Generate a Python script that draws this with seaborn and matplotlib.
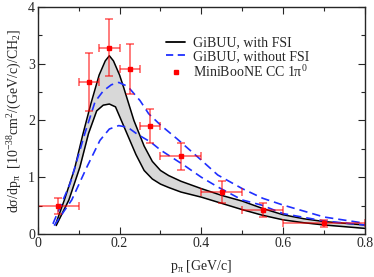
"""
GiBUU vs MiniBooNE CC 1pi0: dsigma/dp_pi.
Output: out.png
"""
import numpy as np
import pandas as pd
import matplotlib.pyplot as plt
from matplotlib.lines import Line2D
import seaborn as sns

# GiBUU with FSI: band (upper and lower edge)
fsi_up_x = [0.045, 0.065, 0.09, 0.11, 0.13, 0.15, 0.165, 0.175, 0.185, 0.2, 0.21, 0.235, 0.26,
            0.28, 0.3, 0.32, 0.35, 0.4, 0.45, 0.5, 0.55, 0.6, 0.65, 0.7, 0.75, 0.8]
fsi_up_y = [0.2, 0.6, 1.15, 1.75, 2.3, 2.8, 3.05, 3.14, 3.05, 2.8, 2.58, 2.0, 1.55,
            1.28, 1.12, 1.03, 0.93, 0.8, 0.68, 0.58, 0.45, 0.34, 0.27, 0.22, 0.19, 0.16]
fsi_lo_x = [0.045, 0.076, 0.103, 0.124, 0.144, 0.16, 0.175, 0.19, 0.215, 0.24, 0.26,
            0.28, 0.3, 0.32, 0.35, 0.4, 0.45, 0.5, 0.55, 0.6, 0.65, 0.7, 0.75, 0.8]
fsi_lo_y = [0.15, 0.6, 1.18, 1.77, 2.17, 2.27, 2.29, 2.24, 1.82, 1.4, 1.12,
            0.97, 0.88, 0.82, 0.74, 0.65, 0.54, 0.43, 0.33, 0.25, 0.2, 0.16, 0.13, 0.1]

# GiBUU without FSI: two dashed curves
nofsi_up_x = [0.037, 0.079, 0.115, 0.14, 0.16, 0.18, 0.198, 0.22, 0.25, 0.271, 0.3,
              0.34, 0.4, 0.44, 0.5, 0.55, 0.6, 0.7, 0.8]
nofsi_up_y = [0.18, 0.89, 1.77, 2.33, 2.52, 2.63, 2.67, 2.6, 2.35, 2.12, 1.92,
              1.68, 1.3, 1.04, 0.8, 0.63, 0.51, 0.3, 0.19]
nofsi_lo_x = [0.04, 0.083, 0.12, 0.152, 0.175, 0.198, 0.22, 0.243, 0.276, 0.3,
              0.358, 0.4, 0.44, 0.5, 0.547, 0.6, 0.7, 0.8]
nofsi_lo_y = [0.15, 0.6, 1.18, 1.65, 1.85, 1.91, 1.88, 1.76, 1.62, 1.48,
              1.21, 1.0, 0.83, 0.6, 0.51, 0.36, 0.23, 0.16]

# MiniBooNE data
data_x = [0.05, 0.125, 0.175, 0.225, 0.275, 0.35, 0.45, 0.55, 0.7]
data_y = [0.49, 2.67, 3.28, 2.9, 1.9, 1.37, 0.74, 0.42, 0.19]
data_xerr = [0.05, 0.025, 0.025, 0.025, 0.025, 0.05, 0.05, 0.05, 0.1]
data_yerr = [0.14, 0.51, 0.5, 0.44, 0.3, 0.24, 0.19, 0.12, 0.06]

BLUE = "#1f2fff"


def main():
    sns.set_style("ticks")
    plt.rcParams["font.family"] = ["Liberation Serif", "DejaVu Serif"]
    plt.rcParams["mathtext.fontset"] = "custom"
    plt.rcParams["mathtext.rm"] = "Liberation Serif"
    plt.rcParams["mathtext.it"] = "Liberation Serif"
    plt.rcParams["mathtext.default"] = "regular"
    plt.rcParams["font.size"] = 10

    fig = plt.figure(figsize=(3.74, 2.77), dpi=100)
    ax = fig.add_axes([0.101, 0.155, 0.875, 0.82])

    # shaded FSI band
    grid = np.linspace(0.045, 0.8, 400)
    ax.fill_between(grid, np.interp(grid, fsi_lo_x, fsi_lo_y),
                    np.interp(grid, fsi_up_x, fsi_up_y), color="#d8d8d8", lw=0)

    up = pd.DataFrame({"x": fsi_up_x, "y": fsi_up_y})
    lo = pd.DataFrame({"x": fsi_lo_x, "y": fsi_lo_y})
    sns.lineplot(data=up, x="x", y="y", ax=ax, color="black", lw=1.1, sort=False)
    sns.lineplot(data=lo, x="x", y="y", ax=ax, color="black", lw=1.1, sort=False)

    nup = pd.DataFrame({"x": nofsi_up_x, "y": nofsi_up_y})
    nlo = pd.DataFrame({"x": nofsi_lo_x, "y": nofsi_lo_y})
    sns.lineplot(data=nup, x="x", y="y", ax=ax, color=BLUE, lw=1.2, sort=False)
    sns.lineplot(data=nlo, x="x", y="y", ax=ax, color=BLUE, lw=1.2, sort=False)
    for ln in ax.lines[2:4]:
        ln.set_dashes([5, 3])

    ax.errorbar(data_x, data_y, xerr=data_xerr, yerr=data_yerr, fmt="s",
                color="red", ms=3, ecolor=(1, 0, 0, 0.65), elinewidth=1.1,
                capsize=3, capthick=1.1)

    ax.set_xlim(0, 0.8)
    ax.set_ylim(0, 4)
    ax.set_xticks([0, 0.2, 0.4, 0.6, 0.8])
    ax.set_xticklabels(["0", "0.2", "0.4", "0.6", "0.8"])
    ax.set_xticks(np.arange(0, 0.81, 0.1), minor=True)
    ax.set_yticks([0, 1, 2, 3, 4])
    ax.set_yticks(np.arange(0, 4.01, 0.5), minor=True)
    ax.tick_params(which="both", direction="in", top=True, right=True,
                   labelsize=10, pad=2, width=0.8)
    ax.tick_params(which="major", length=5)
    ax.tick_params(which="minor", length=3)
    for sp in ax.spines.values():
        sp.set_linewidth(1)

    ax.set_xlabel(r"p$_{π}$ [GeV/c]", fontsize=10, labelpad=6)
    ax.set_ylabel(r"dσ/dp$_{π}$  [10$^{-38}$cm$^2$/(GeV/c)/CH$_2$]",
                  fontsize=10, labelpad=3)

    handles = [
        Line2D([], [], color="black", lw=1.3),
        Line2D([], [], color=BLUE, lw=1.3, dashes=[4, 2.5]),
        Line2D([], [], color="red", marker="s", ms=2.5, ls="none"),
    ]
    labels = ["GiBUU, with FSI", "GiBUU, without FSI", r"MiniBooNE CC 1π$^0$"]
    ax.legend(handles, labels, loc="upper left", bbox_to_anchor=(0.37, 0.9),
              frameon=False, fontsize=10, handlelength=1.4, handletextpad=0.55,
              borderpad=0, labelspacing=0.05)

    fig.savefig("out.png", dpi=100)
    plt.close()
    print("Saved out.png")


if __name__ == "__main__":
    main()
